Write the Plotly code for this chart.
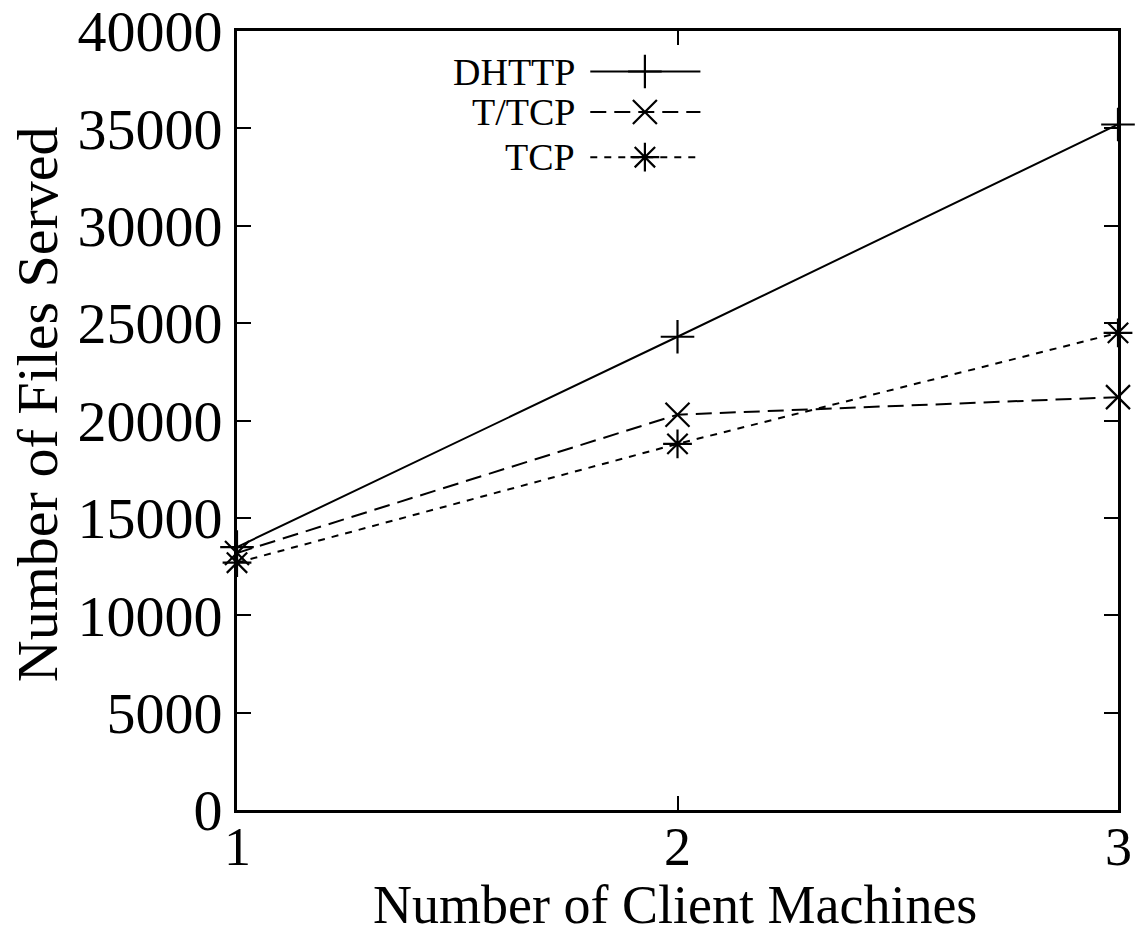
import plotly.graph_objects as go

clients = [1, 2, 3]
dhttp = [13500, 24300, 35200]
ttcp = [13200, 20300, 21200]
tcp = [12700, 18800, 24500]

y_ticks = [0, 5000, 10000, 15000, 20000, 25000, 30000, 35000, 40000]
y_ticktext = [str(v) for v in y_ticks]
x_ticktext = [str(c) for c in clients]

series_names = ["DHTTP", "T/TCP", "TCP"]
series_vals = [dhttp, ttcp, tcp]
symbols = ["cross-thin-open", "x-thin-open", "asterisk-open"]
dashes = ["solid", "16px,8px", "7px,7px"]

FONT = "Liberation Serif"
fig = go.Figure()

for name, vals, sym, dsh in zip(series_names, series_vals, symbols, dashes):
    fig.add_trace(go.Scatter(
        x=clients, y=vals, mode="lines+markers", name=name,
        line=dict(color="black", width=2, dash=dsh),
        marker=dict(symbol=sym, size=24, color="black", line=dict(color="black", width=2.2)),
        cliponaxis=False, showlegend=False,
    ))

# manual legend (text left of sample, as in the original)
leg_y = [0.948, 0.896, 0.838]
for name, sym, dsh, ly in zip(series_names, symbols, dashes, leg_y):
    fig.add_trace(go.Scatter(
        x=[0.401, 0.526], y=[ly, ly], mode="lines", xaxis="x2", yaxis="y2",
        line=dict(color="black", width=2, dash=dsh), showlegend=False, hoverinfo="skip"))
    fig.add_trace(go.Scatter(
        x=[0.463], y=[ly], mode="markers", xaxis="x2", yaxis="y2",
        marker=dict(symbol=sym, size=24, color="black", line=dict(color="black", width=2.2)),
        showlegend=False, hoverinfo="skip"))
    fig.add_annotation(x=0.386, y=ly, xref="paper", yref="paper", text=name,
                       showarrow=False, xanchor="right", yanchor="middle",
                       font=dict(family=FONT, size=38, color="black"))

# x tick labels placed close to the axis, as in the original
for c, t in zip(clients, x_ticktext):
    fig.add_annotation(x=c, y=-0.047, xref="x", yref="paper", text=t, showarrow=False,
                       xanchor="center", yanchor="middle", borderpad=0,
                       font=dict(family=FONT, size=54, color="black"))

# axis titles as annotations for precise placement
fig.add_annotation(x=-0.227, y=0.521, xref="paper", yref="paper", text="Number of Files Served",
                   textangle=-90, showarrow=False, xanchor="center", yanchor="middle",
                   font=dict(family=FONT, size=58, color="black"))
fig.add_annotation(x=0.497, y=-0.122, xref="paper", yref="paper", text="Number of Client Machines",
                   showarrow=False, xanchor="center", yanchor="middle", borderpad=0,
                   font=dict(family=FONT, size=54, color="black"))

axis_common = dict(ticks="inside", ticklen=14, tickwidth=2, tickcolor="black",
                   showline=True, linecolor="black", linewidth=3, mirror="allticks",
                   showgrid=False, zeroline=False, automargin=False,
                   ticklabeloverflow="allow",
                   tickfont=dict(family=FONT, size=58, color="black"))

fig.update_layout(
    width=1141, height=935,
    margin=dict(l=237, r=23, t=31, b=125),
    paper_bgcolor="white", plot_bgcolor="white",
    font=dict(family=FONT, color="black"),
    xaxis=dict(range=[1, 3], tickvals=clients, showticklabels=False, **axis_common),
    yaxis=dict(range=[0, 40000], tickvals=y_ticks, ticktext=y_ticktext, **axis_common),
    xaxis2=dict(domain=[0, 1], range=[0, 1], overlaying="x", visible=False, anchor="y2"),
    yaxis2=dict(domain=[0, 1], range=[0, 1], overlaying="y", visible=False, anchor="x2"),
)

fig.write_html("out.html")
